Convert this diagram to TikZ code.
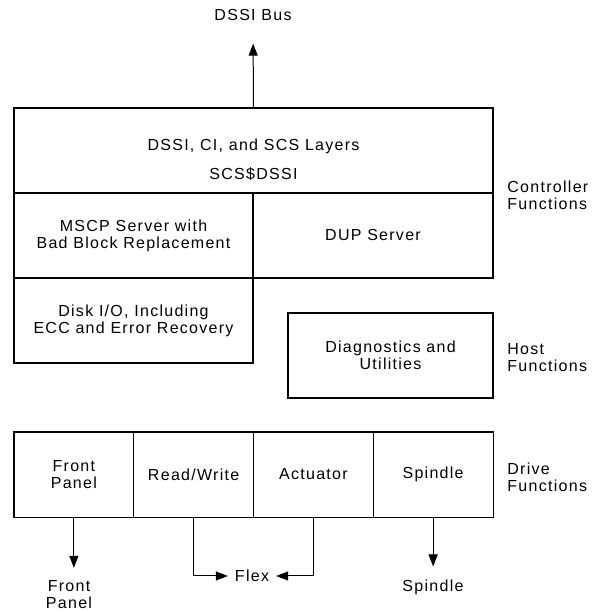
\documentclass[tikz,border=0pt]{standalone}
\usepackage{fontspec}
\setmainfont{Liberation Sans}[LetterSpace=8]
\usetikzlibrary{calc,arrows.meta}
\tikzset{
  box/.style={draw, line width=0.75pt, minimum height=42.5pt, inner sep=0pt, align=center},
  cell/.style={draw, line width=0.4pt, minimum width=59.875pt, minimum height=42.5pt, inner sep=0pt, align=center},
  side/.style={anchor=west, align=left, inner xsep=0pt},
  arr/.style={-{Triangle[length=6pt,width=4.5pt]}, line width=0.5pt},
}

\begin{document}
\begin{tikzpicture}[x=1pt,y=1pt,font=\fontsize{8}{8.5}\selectfont]
%define stuff
\def\sidex{253.5}
%set bounding box
\useasboundingbox (0,0) rectangle (296,306.5);
%Bus
\node (bus) at (126.5,299) {DSSI Bus};
%Controller boxes
\node[box, minimum width=239.5pt] (layers) at (126.75,231.25) {};
\node[align=center] (layerstxt) at ($(layers.center)+(0,-4.5)$) {DSSI, CI, and SCS Layers\\[6pt]SCS\$DSSI};
\node[box, minimum width=119.5pt] (mscp) at (66.75,188.75) {MSCP Server with\\Bad Block Replacement};
\node[box, minimum width=120pt] (dup) at (186.5,188.75) {DUP Server};
\node[box, minimum width=119.5pt] (disk) at (66.75,146.25) {Disk I/O, Including\\ECC and Error Recovery};
\draw[arr] (layers.north) -- (bus.south) [shorten >=8pt];
%Host box
\node[box, minimum width=102.5pt] (diag) at (195.25,128.75) {Diagnostics and\\Utilities};
%Drive boxes
\node[cell] (fp) at (36.94,69.25) {Front\\Panel};
\node[cell] (rw) at (96.81,69.25) {Read/Write};
\node[cell] (act) at (156.69,69.25) {Actuator};
\node[cell] (sp) at (216.56,69.25) {Spindle};
\draw[line width=0.75pt] (fp.north west) rectangle (sp.south east);
%Drive outputs
\node[align=center] (fpout) at (34.5,9) {Front\\Panel};
\node (flex) at (126,18.5) {Flex};
\node (spout) at (216.5,13) {Spindle};
\draw[arr, shorten >=3pt] (fp.south) -- (fp.south |- fpout.north);
\draw[arr, shorten >=3pt] (sp.south) -- (sp.south |- spout.north);
\draw[arr] (rw.south) |- (flex.west);
\draw[arr] (act.south) |- (flex.east);
%Side labels
\node[side] (ctrl) at (\sidex,209) {Controller\\Functions};
\node[side] (host) at (\sidex,127.75) {Host\\Functions};
\node[side] (drive) at (\sidex,67.75) {Drive\\Functions};
\end{tikzpicture}
\end{document}
